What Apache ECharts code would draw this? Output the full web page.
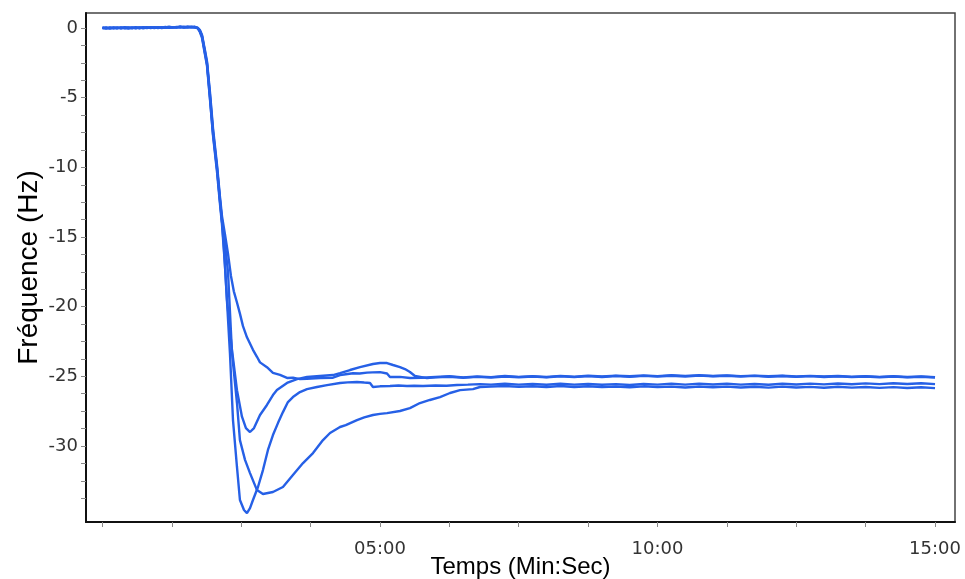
<!DOCTYPE html>
<html>
<head>
<meta charset="utf-8">
<script src="https://cdn.jsdelivr.net/npm/echarts@6/dist/echarts.min.js"></script>
<style>html,body{margin:0;padding:0;background:#fff}#c{width:965px;height:579px}</style>
</head>
<body>
<div id="c"></div>
<script>
// Time in seconds, frequency shift in Hz
const xTickValues = [0, 75, 150, 225, 300, 375, 450, 525, 600, 675, 750, 825, 900];
const xLabelValues = [300, 600, 900];
const yTickValues = [0, -1.25, -2.5, -3.75, -5, -6.25, -7.5, -8.75, -10, -11.25, -12.5, -13.75, -15, -16.25, -17.5, -18.75, -20, -21.25, -22.5, -23.75, -25, -26.25, -27.5, -28.75, -30, -31.25, -32.5, -33.75];
const yLabelValues = [0, -5, -10, -15, -20, -25, -30];

const seriesA = [
  [0,0.02],[4,-0.04],[8,0.03],[12,-0.02],[16,0.05],[20,-0.03],[24,0.04],[28,0.0],[32,0.05],[36,-0.03],[40,0.04],[44,0.01],[48,0.06],[52,-0.01],[56,0.05],[60,0.02],[64,0.07],[68,0.01],[72,0.06],[76,0.03],[80,0.08],[84,0.04],[88,0.09],[92,0.05],[96,0.08],[100,0.06],[103,0.02],
  [105.4,-0.15],[107.6,-0.5],[110.8,-1.6],[113,-2.4],[116.2,-4.6],[119.5,-7.2],[123.8,-9.8],[127,-12.1],[129.2,-13.5],
  [132.4,-14.8],[135.7,-16.2],[138.9,-17.8],[142,-18.9],[145.4,-19.7],[148.6,-20.5],[151.9,-21.4],[156.2,-22.2],[162.7,-23.1],[167,-23.6],[170.3,-24.0],[177.8,-24.35],[184.3,-24.75],[191.9,-24.9],[199.5,-25.12],[205.9,-25.1],[213.5,-25.2],[221.1,-25.18],[235.1,-25.12],[249.2,-25.1],
  [256.8,-24.92],[263,-24.85],[270.8,-24.78],[278,-24.8],[285.9,-24.74],[292,-24.72],[300,-24.7],[307.6,-24.8],[310.8,-25.05],[321.6,-25.04],[332.4,-25.12],
  [345,-25.1],[360,-25.05],[375,-25.0],[390,-25.08],[405,-25.02],[420,-25.06],[435,-24.98],[450,-25.04],[465,-24.99],[480,-25.05],[495,-24.97],[510,-25.03],[525,-24.96],[540,-25.02],[555,-24.95],[570,-25.0],[585,-24.94],[600,-24.99],[615,-24.93],[630,-24.97],[645,-24.92],[660,-24.98],[675,-24.94],[690,-24.99],[705,-24.95],[720,-25.0],[735,-24.96],[750,-25.01],[765,-24.97],[780,-25.02],[795,-24.98],[810,-25.03],[825,-24.99],[840,-25.04],[855,-25.0],[870,-25.05],[885,-25.01],[900,-25.06]
];

const seriesB = [
  [0,-0.03],[4,0.04],[8,-0.02],[12,0.05],[16,-0.01],[20,0.04],[24,-0.03],[28,0.05],[32,0.0],[36,0.06],[40,-0.02],[44,0.05],[48,0.0],[52,0.06],[56,0.02],[60,0.07],[64,0.0],[68,0.06],[72,0.02],[76,0.07],[80,0.03],[84,0.08],[88,0.04],[92,0.09],[96,0.05],[100,0.07],[103,0.0],
  [105.4,-0.2],[107.6,-0.55],[110.8,-1.7],[113,-2.5],[116.2,-4.8],[119.5,-7.4],[123.8,-10.0],[127,-12.3],[129.2,-13.8],
  [131.4,-15.9],[134.6,-19.5],[140,-23.1],[145.4,-26.0],[150.8,-27.9],[155.1,-28.72],[159.5,-29.0],[163.8,-28.72],[170.3,-27.78],[177.8,-27.06],[184.3,-26.35],[188.6,-25.99],[199.5,-25.48],[210.3,-25.2],[221.1,-25.05],[235.1,-24.98],[249.2,-24.91],
  [256.8,-24.77],[267.6,-24.55],[278.4,-24.34],[292.4,-24.12],[300,-24.05],[307.6,-24.05],[314.1,-24.19],[321.6,-24.34],[327,-24.48],[332.4,-24.69],[337.8,-24.98],[350.8,-25.13],
  [360,-25.08],[375,-25.03],[390,-25.1],[405,-25.04],[420,-25.09],[435,-25.01],[450,-25.07],[465,-25.02],[480,-25.08],[495,-25.0],[510,-25.06],[525,-24.99],[540,-25.05],[555,-24.98],[570,-25.04],[585,-24.97],[600,-25.02],[615,-24.96],[630,-25.01],[645,-24.95],[660,-25.0],[675,-24.96],[690,-25.02],[705,-24.97],[720,-25.03],[735,-24.98],[750,-25.04],[765,-24.99],[780,-25.05],[795,-25.0],[810,-25.06],[825,-25.01],[840,-25.07],[855,-25.02],[870,-25.08],[885,-25.03],[900,-25.09]
];

const seriesC = [
  [0,0.0],[4,0.03],[8,-0.04],[12,0.02],[16,-0.03],[20,0.05],[24,0.0],[28,-0.04],[32,0.03],[36,0.0],[40,0.05],[44,-0.02],[48,0.03],[52,0.05],[56,0.0],[60,0.05],[64,0.03],[68,0.08],[72,0.03],[76,0.06],[80,0.05],[84,0.09],[88,0.06],[92,0.08],[96,0.1],[100,0.05],[103,-0.02],
  [105.4,-0.25],[107.6,-0.6],[110.8,-1.8],[113,-2.6],[116.2,-5.0],[119.5,-7.6],[123.8,-10.1],[127,-12.4],[129.2,-13.9],
  [132.4,-15.5],[135.7,-17.5],[140,-23.3],[145.4,-26.9],[148.6,-29.58],[154.1,-31.0],[159.5,-31.95],[167,-33.17],[173.5,-33.45],[178.9,-33.38],[184.3,-33.31],[195.1,-32.95],[205.9,-32.09],[216.8,-31.23],[227.6,-30.51],[238.4,-29.58],[246,-29.07],[256.8,-28.64],[263,-28.5],[275.1,-28.14],[283,-27.95],[292.4,-27.78],[300,-27.7],[307.6,-27.64],[321.6,-27.49],[332.4,-27.28],[343.2,-26.92],[353.9,-26.7],[364.9,-26.49],[375.7,-26.2],[386.5,-25.99],[400.5,-25.92],[408.1,-25.77],[420,-25.74],
  [435,-25.7],[450,-25.76],[465,-25.72],[480,-25.78],[495,-25.7],[510,-25.77],[525,-25.72],[540,-25.78],[555,-25.73],[570,-25.79],[585,-25.72],[600,-25.78],[615,-25.74],[630,-25.8],[645,-25.73],[660,-25.79],[675,-25.74],[690,-25.8],[705,-25.75],[720,-25.81],[735,-25.74],[750,-25.8],[765,-25.76],[780,-25.82],[795,-25.75],[810,-25.81],[825,-25.77],[840,-25.83],[855,-25.78],[870,-25.84],[885,-25.79],[900,-25.85]
];

const seriesD = [
  [0,0.04],[4,-0.02],[8,0.05],[12,0.0],[16,0.03],[20,-0.02],[24,0.06],[28,0.02],[32,-0.02],[36,0.04],[40,0.0],[44,0.06],[48,0.02],[52,0.03],[56,0.07],[60,0.0],[64,0.05],[68,0.04],[72,0.09],[76,0.05],[80,0.06],[84,0.1],[88,0.05],[92,0.07],[96,0.06],[100,0.09],[103,0.0],
  [105.4,-0.3],[107.6,-0.7],[110.8,-1.9],[113,-2.7],[116.2,-5.1],[119.5,-7.7],[123.8,-10.3],[127,-12.6],[129.2,-14.1],
  [132.4,-17.0],[137.8,-23.33],[141.1,-28.14],[145.4,-31.51],[148.6,-33.88],[153,-34.6],[156.2,-34.82],[159.5,-34.46],[162.7,-33.88],[168.1,-32.95],[173.5,-31.73],[178.9,-30.29],[184.3,-29.22],[189.7,-28.36],[195.1,-27.57],[200.5,-26.85],[205.9,-26.49],[213.5,-26.13],[221.1,-25.92],[231.9,-25.77],[242.7,-25.63],[256.8,-25.48],[265,-25.44],[275.1,-25.41],[283,-25.45],[289.2,-25.48],[292.4,-25.77],[300,-25.72],[310.8,-25.7],[320,-25.66],[329.2,-25.7],[337,-25.68],[346.5,-25.7],[360,-25.66],[372,-25.68],[383.2,-25.63],[395,-25.6],[408.1,-25.56],
  [420,-25.6],[435,-25.54],[450,-25.6],[465,-25.55],[480,-25.61],[495,-25.54],[510,-25.6],[525,-25.55],[540,-25.61],[555,-25.56],[570,-25.62],[585,-25.55],[600,-25.6],[615,-25.54],[630,-25.6],[645,-25.53],[660,-25.59],[675,-25.54],[690,-25.6],[705,-25.55],[720,-25.61],[735,-25.54],[750,-25.59],[765,-25.53],[780,-25.58],[795,-25.52],[810,-25.57],[825,-25.51],[840,-25.56],[855,-25.5],[870,-25.55],[885,-25.5],[900,-25.56]
];

const allSeries = [seriesA, seriesB, seriesC, seriesD];
const lineColor = '#2660E6';

function mmss(v) {
  const m = Math.floor(v / 60), s = Math.round(v % 60);
  return String(m).padStart(2, '0') + ':' + String(s).padStart(2, '0');
}

const chart = echarts.init(document.getElementById('c'), null, {renderer: 'canvas'});
chart.setOption({
  animation: false,
  backgroundColor: '#fff',
  grid: {left: 86, right: 10, top: 13, bottom: 57, containLabel: false, outerBoundsMode: 'none', show: true, borderColor: '#444', borderWidth: 1.5, backgroundColor: 'transparent'},
  xAxis: {
    type: 'value', min: -17.8, max: 921.6,
    name: 'Temps (Min:Sec)', nameLocation: 'middle', nameGap: 33, nameMoveOverlap: false,
    nameTextStyle: {fontFamily: 'Liberation Sans', fontSize: 24, color: '#000'},
    axisLine: {show: true, onZero: false, lineStyle: {color: '#111', width: 2}},
    axisTick: {show: true, length: 5, customValues: xTickValues, lineStyle: {color: '#888', width: 1}},
    axisLabel: {customValues: xLabelValues, formatter: mmss, fontFamily: 'DejaVu Sans', fontSize: 18, color: '#333', margin: 18},
    splitLine: {show: false}
  },
  yAxis: {
    type: 'value', min: -35.46, max: 1.08,
    name: 'Fréquence (Hz)', nameLocation: 'middle', nameGap: 43, nameMoveOverlap: false,
    nameTextStyle: {fontFamily: 'Liberation Sans', fontSize: 28, color: '#000'},
    axisLine: {show: true, onZero: false, lineStyle: {color: '#111', width: 2}},
    axisTick: {show: true, length: 5, customValues: yTickValues, lineStyle: {color: '#888', width: 1}},
    axisLabel: {customValues: yLabelValues, fontFamily: 'DejaVu Sans', fontSize: 18, color: '#333', margin: 8},
    splitLine: {show: false}
  },
  series: allSeries.map(d => ({
    type: 'line', data: d, showSymbol: false, symbol: 'none',
    lineStyle: {color: lineColor, width: 2.4}, itemStyle: {color: lineColor}
  }))
});
</script>
</body>
</html>
